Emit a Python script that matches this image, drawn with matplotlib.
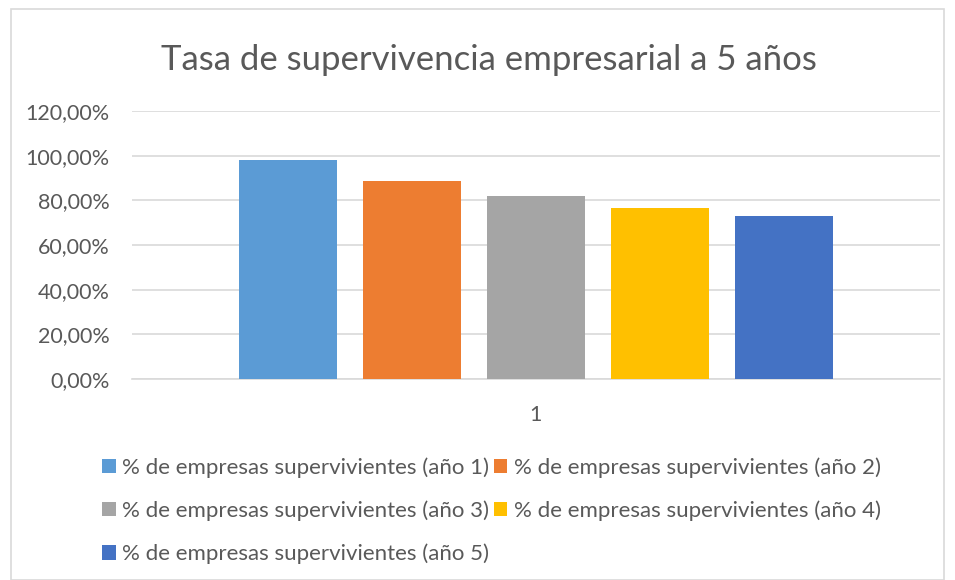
import matplotlib.pyplot as plt
from matplotlib.patches import Rectangle

# datos
categorias = ["1"]
series = ["% de empresas supervivientes (año 1)",
          "% de empresas supervivientes (año 2)",
          "% de empresas supervivientes (año 3)",
          "% de empresas supervivientes (año 4)",
          "% de empresas supervivientes (año 5)"]
valores = [98.1, 88.7, 82.0, 76.6, 72.9]
colores = ["#5b9bd5", "#ed7d31", "#a5a5a5", "#ffc000", "#4472c4"]
yticks = [0, 20, 40, 60, 80, 100, 120]

plt.rcParams['font.family'] = ['Lato', 'DejaVu Sans']
gris = "#595959"

fig = plt.figure(figsize=(9.55, 5.8), dpi=100)
fig.patches.append(Rectangle((0.011, 0.0), 0.978, 0.985, transform=fig.transFigure,
                             fill=False, edgecolor="#d9d9d9", lw=1.2))
ax = fig.add_axes([0.138, 0.3466, 0.846, 0.462])

ancho = 0.121
paso = 0.1535
handles = []
for i, (s, v, c) in enumerate(zip(series, valores, colores)):
    b = ax.bar(0 + (i - 2) * paso, v, width=ancho, color=c, label=s, zorder=3)
    handles.append(b)

ax.set_xlim(-0.5, 0.5)
ax.set_ylim(0, 120)
ax.set_yticks(yticks)
ax.set_yticklabels([f"{t},00%" for t in yticks], fontsize=15.5, color=gris)
ax.set_xticks([0])
ax.set_xticklabels(categorias, fontsize=15.5, color=gris)
ax.tick_params(length=0)
ax.tick_params(axis="y", pad=16)
ax.tick_params(axis="x", pad=19)
ax.grid(axis="y", color="#d9d9d9", lw=1.2, zorder=0)
for sp in ["top", "right", "left"]:
    ax.spines[sp].set_visible(False)
ax.spines["bottom"].set_color("#d9d9d9")
ax.spines["bottom"].set_linewidth(1.2)

fig.text(0.512, 0.897, "Tasa de supervivencia empresarial a 5 años", ha="center", va="center",
         fontsize=25, color=gris)

orden = [0, 2, 4, 1, 3]
leg = fig.legend([handles[k] for k in orden], [series[k] for k in orden], ncol=2,
                 loc="upper left", bbox_to_anchor=(0.098, 0.227), frameon=False,
                 fontsize=16, handlelength=0.6, handleheight=0.6, handletextpad=0.3,
                 columnspacing=0.2, labelspacing=1.02, labelcolor=gris, borderaxespad=0)

fig.savefig("out.png", dpi=100)
